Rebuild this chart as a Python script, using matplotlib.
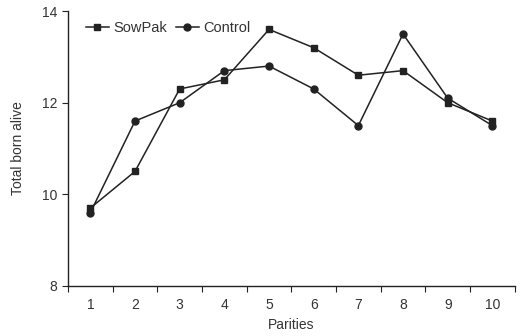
import matplotlib
matplotlib.use("Agg")
import matplotlib.pyplot as plt

plt.rcParams['font.family'] = ['Liberation Sans', 'DejaVu Sans']

parities = [1, 2, 3, 4, 5, 6, 7, 8, 9, 10]
sowpak = [9.7, 10.5, 12.3, 12.5, 13.6, 13.2, 12.6, 12.7, 12.0, 11.6]
control = [9.6, 11.6, 12.0, 12.7, 12.8, 12.3, 11.5, 13.5, 12.1, 11.5]
yticks = [8, 10, 12, 14]

col = '#222222'
tcol = '#333333'

fig = plt.figure(figsize=(5.2, 3.36), dpi=100)
ax = fig.add_axes([0.1308, 0.149, 0.859, 0.818])

ax.plot(parities, sowpak, color=col, marker='s', markersize=5, linewidth=1.1, label='SowPak')
ax.plot(parities, control, color=col, marker='o', markersize=5, linewidth=1.1, label='Control')

ax.set_xlim(0.5, 10.5)
ax.set_ylim(8, 14)
ax.set_yticks(yticks)
ax.set_xticks([p - 0.5 for p in parities] + [10.5])
ax.set_xticklabels([])
ax.set_xticks(parities, minor=True)
ax.set_xticklabels([str(p) for p in parities], minor=True)
ax.tick_params(axis='x', which='minor', length=0, pad=9, labelsize=10, labelcolor=tcol)
ax.tick_params(axis='x', which='major', length=4, direction='out', color=col)
ax.tick_params(axis='y', length=4, direction='out', color=col, labelsize=10, labelcolor=tcol)

for s in ['top', 'right']:
    ax.spines[s].set_visible(False)
for s in ['left', 'bottom']:
    ax.spines[s].set_color(col)
    ax.spines[s].set_linewidth(1.0)

ax.set_xlabel('Parities', fontsize=10, color=tcol, labelpad=4)
ax.set_ylabel('Total born alive', fontsize=10, color=tcol, labelpad=12)

leg = ax.legend(loc='upper left', bbox_to_anchor=(0.01, 1.01), ncol=2, frameon=False,
                handlelength=1.6, handletextpad=0.3, columnspacing=0.6, fontsize=10.5)
for t in leg.get_texts():
    t.set_color(tcol)

fig.savefig('out.png', dpi=100)
